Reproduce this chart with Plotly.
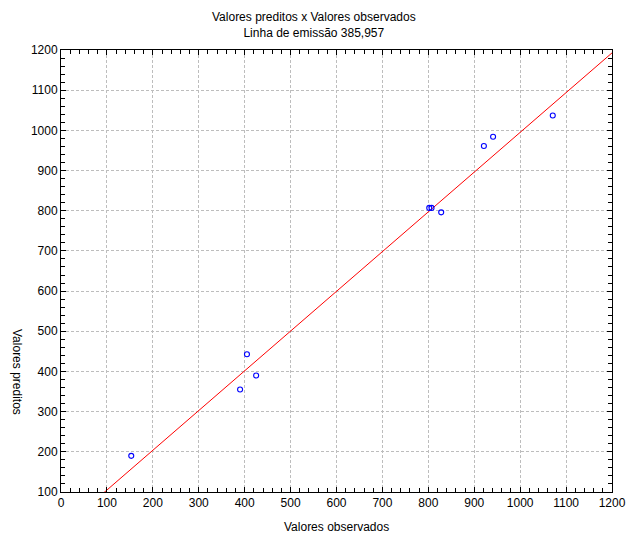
import plotly.graph_objects as go

observed = [153, 390, 405, 425, 802, 807, 828, 921, 941, 1071]
predicted = [190, 355, 443, 390, 807, 807, 796, 961, 984, 1037]

# regression line (predicted = intercept + slope * observed)
line_intercept = 6.0
line_slope = 0.989
x_range = [0, 1200]
y_range = [100, 1200]

x_line = [x_range[0], x_range[1]]
y_line = [line_intercept + line_slope * v for v in x_line]

font_family = "Liberation Sans, Arial, sans-serif"
txt_font = dict(family=font_family, size=12, color="black")

fig = go.Figure()
fig.add_trace(go.Scatter(
    x=x_line, y=y_line, mode="lines",
    line=dict(color="#ff0000", width=1), hoverinfo="skip", showlegend=False))
fig.add_trace(go.Scatter(
    x=observed, y=predicted, mode="markers",
    marker=dict(symbol="circle-open", size=5, color="#0000ff", line=dict(width=1.1, color="#0000ff")),
    showlegend=False))

axis_common = dict(
    showline=True, linecolor="black", linewidth=1, mirror="ticks",
    ticks="inside", ticklen=5, tickcolor="black", tickwidth=1,
    showgrid=True, gridcolor="#bdbdbd", griddash="3px,2px", gridwidth=1,
    zeroline=False, automargin=False,
    tickfont=txt_font,
    minor=dict(dtick=20, ticks="inside", ticklen=4, tickcolor="black", showgrid=False),
)

fig.update_xaxes(range=x_range, dtick=100, tick0=0, **axis_common)
fig.update_yaxes(range=y_range, dtick=100, tick0=100, **axis_common)

fig.update_layout(
    width=628, height=538, autosize=False,
    margin=dict(l=61, r=16, t=50, b=46, autoexpand=False),
    paper_bgcolor="white", plot_bgcolor="white",
    font=txt_font,
    annotations=[
        dict(text="Valores preditos x Valores observados<br>Linha de emissão 385,957",
             xref="paper", yref="paper", x=(314 - 61) / 551, y=1, yshift=42,
             xanchor="center", yanchor="top", showarrow=False, font=txt_font),
        dict(text="Valores observados", xref="paper", yref="paper", x=0.5, y=0,
             yshift=-35, xanchor="center", yanchor="middle", showarrow=False,
             font=txt_font),
        dict(text="Valores preditos", xref="paper", yref="paper", x=0, y=(492 - 372) / 442,
             xshift=-44, xanchor="center", yanchor="middle", textangle=90, showarrow=False,
             font=txt_font),
    ],
)

fig.write_html("out.html")
